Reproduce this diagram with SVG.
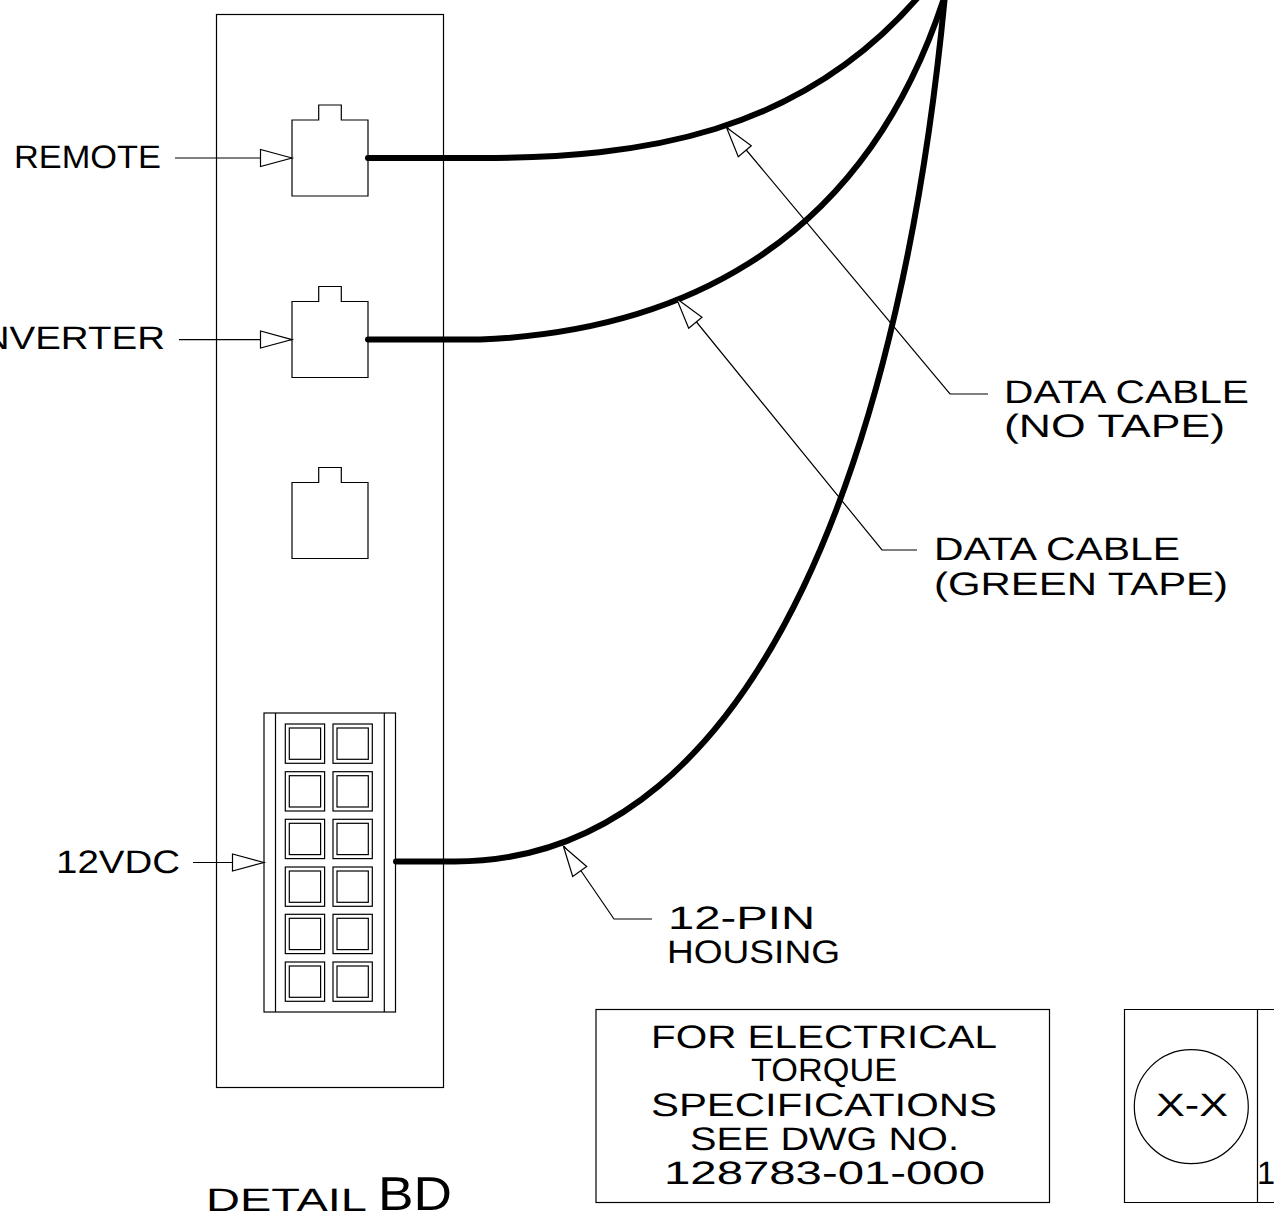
<svg xmlns="http://www.w3.org/2000/svg" width="1274" height="1227" viewBox="0 0 1274 1227">
<defs>
<style>
.l{fill:none;stroke:#000;stroke-width:1.2}
.c{fill:none;stroke:#000;stroke-width:6;stroke-linecap:round}
.h{fill:#fff;stroke:#000;stroke-width:1.2;stroke-linejoin:miter}
text{font-family:"Liberation Sans",Arial,sans-serif;font-size:32.5px;fill:#000;text-rendering:geometricPrecision}
</style>
<path id="jack" class="l" d="M0 15H26.700V0H49.300V15H76V91H0Z"/>
<g id="cell"><rect class="l" width="39.300" height="39.300"/><rect class="l" x="4" y="4" width="31.300" height="31.300"/></g>
</defs>
<rect width="1274" height="1227" fill="#fff"/>
<g id="panel"><rect class="l" x="216.500" y="14.500" width="227" height="1073"/></g>
<g id="connectors">
<path class="c" d="M368 158H480C640 158 800 135 920 -5"/>
<path class="c" d="M368 339.600H480C660 332 860 260 945 -5"/>
<path class="c" d="M396 861.500H455C770 861.500 905 420 945 -5"/>
<path class="l" d="M175 158H292M179 339.600H292M193 862.500H264"/>
<polygon class="h" points="292,158 260.500,149.500 260.500,166.500"/>
<polygon class="h" points="292,339.600 260.500,331 260.500,348"/>
<polygon class="h" points="264,862.500 232.500,854 232.500,871"/>
<path class="l" d="M727 127L950 394H988M677 298L882 550H917M564 846L614 919H652"/>
<polygon class="h" points="726.500,127.500 751.300,145.700 738.300,156.700"/>
<polygon class="h" points="676.500,298.500 702,317.300 688.700,328.300"/>
<polygon class="h" points="563.500,846.500 586.700,866.500 572.700,876.500"/>
</g>
<g id="jack1"><use href="#jack" x="292" y="105"/></g>
<g id="jack2"><use href="#jack" x="292" y="286.500"/></g>
<g id="jack3"><use href="#jack" x="292" y="467.500"/></g>
<g id="housing">
<rect class="l" x="264" y="713" width="131.500" height="299"/>
<path class="l" d="M275.500 713V1012M384.300 713V1012"/>
<use href="#cell" x="285.300" y="724"/><use href="#cell" x="333" y="724"/>
<use href="#cell" x="285.300" y="771.700"/><use href="#cell" x="333" y="771.700"/>
<use href="#cell" x="285.300" y="819.300"/><use href="#cell" x="333" y="819.300"/>
<use href="#cell" x="285.300" y="867"/><use href="#cell" x="333" y="867"/>
<use href="#cell" x="285.300" y="914.300"/><use href="#cell" x="333" y="914.300"/>
<use href="#cell" x="285.300" y="962"/><use href="#cell" x="333" y="962"/>
</g>
<g id="labels">
<text x="14" y="168" textLength="147" lengthAdjust="spacingAndGlyphs">REMOTE</text>
<text x="-29" y="349" textLength="194" lengthAdjust="spacingAndGlyphs">INVERTER</text>
<text x="56" y="873" textLength="124" lengthAdjust="spacingAndGlyphs">12VDC</text>
<text x="1004" y="403" textLength="245" lengthAdjust="spacingAndGlyphs">DATA CABLE</text>
<text x="1004" y="437" textLength="221" lengthAdjust="spacingAndGlyphs">(NO TAPE)</text>
<text x="934" y="560" textLength="246" lengthAdjust="spacingAndGlyphs">DATA CABLE</text>
<text x="934" y="595" textLength="294" lengthAdjust="spacingAndGlyphs">(GREEN TAPE)</text>
<text x="668" y="929" textLength="147" lengthAdjust="spacingAndGlyphs">12-PIN</text>
<text x="667" y="963" textLength="173" lengthAdjust="spacingAndGlyphs">HOUSING</text>
<text x="206" y="1211" textLength="161" lengthAdjust="spacingAndGlyphs">DETAIL</text>
<text x="378" y="1210" style="font-size:47.500px" textLength="74" lengthAdjust="spacingAndGlyphs">BD</text>
</g>
<g id="note">
<rect class="l" x="596" y="1009.500" width="453.500" height="193"/>
<text x="651" y="1047.500" textLength="346" lengthAdjust="spacingAndGlyphs">FOR ELECTRICAL</text>
<text x="751" y="1081" textLength="146" lengthAdjust="spacingAndGlyphs">TORQUE</text>
<text x="651" y="1115.500" textLength="346" lengthAdjust="spacingAndGlyphs">SPECIFICATIONS</text>
<text x="690" y="1149.500" textLength="269" lengthAdjust="spacingAndGlyphs">SEE DWG NO.</text>
<text x="664" y="1184" textLength="321" lengthAdjust="spacingAndGlyphs">128783-01-000</text>
</g>
<g id="xbox">
<path class="l" d="M1274 1009.500H1124.500V1202.500H1274M1257.500 1009.500V1202.500"/>
<circle class="l" cx="1191.300" cy="1106.700" r="57"/>
<text x="1156" y="1115.700" textLength="72" lengthAdjust="spacingAndGlyphs">X-X</text>
<text x="1257" y="1184">1</text>
</g>
</svg>
